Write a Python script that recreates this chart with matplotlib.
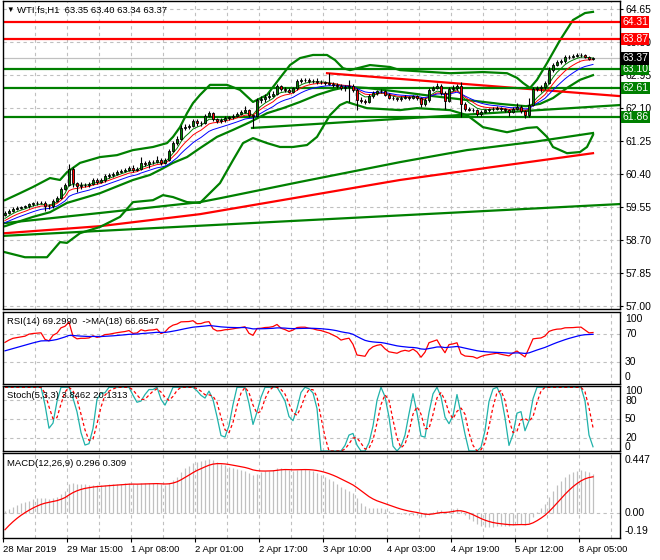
import numpy as np
import pandas as pd
import matplotlib
matplotlib.use("Agg")
import matplotlib.pyplot as plt

plt.rcParams['font.family'] = ['Liberation Sans', 'DejaVu Sans']

# ---- data (WTI.fs H1) ----
first_open = 59.34
closes = [59.39, 59.45, 59.50, 59.52, 59.54, 59.56, 59.62, 59.64, 59.65, 59.66,
          59.58, 59.56, 59.70, 59.77, 60.01, 60.11, 60.52, 60.16, 60.08, 60.11,
          60.11, 60.13, 60.24, 60.20, 60.24, 60.34, 60.36, 60.40, 60.44, 60.47,
          60.50, 60.55, 60.50, 60.52, 60.68, 60.66, 60.70, 60.71, 60.75, 60.68,
          60.75, 60.99, 61.19, 61.30, 61.58, 61.61, 61.63, 61.76, 61.70, 61.72,
          61.89, 61.96, 61.81, 61.76, 61.78, 61.84, 61.86, 61.90, 61.95, 61.99,
          62.04, 61.92, 61.88, 62.30, 62.32, 62.38, 62.40, 62.46, 62.66, 62.58,
          62.55, 62.51, 62.60, 62.79, 62.82, 62.82, 62.80, 62.79, 62.77, 62.76,
          62.74, 62.72, 62.69, 62.66, 62.61, 62.64, 62.66, 62.56, 62.30, 62.28,
          62.26, 62.40, 62.48, 62.52, 62.54, 62.44, 62.36, 62.34, 62.32, 62.36,
          62.38, 62.36, 62.40, 62.34, 62.20, 62.30, 62.56, 62.61, 62.66, 62.48,
          62.28, 62.58, 62.61, 62.66, 62.20, 62.07, 62.05, 62.03, 61.94, 62.00,
          62.04, 62.06, 62.08, 62.10, 62.06, 62.03, 62.00, 62.07, 62.12, 62.02,
          61.92, 62.17, 62.58, 62.61, 62.63, 62.74, 63.07, 63.20, 63.28, 63.30,
          63.41, 63.42, 63.43, 63.46, 63.47, 63.41, 63.35, 63.37]
highs = [59.45, 59.50, 59.55, 59.56, 59.58, 59.60, 59.66, 59.68, 59.69, 59.70,
         59.69, 59.62, 59.74, 59.82, 60.06, 60.16, 60.66, 60.58, 60.20, 60.18,
         60.16, 60.19, 60.29, 60.28, 60.28, 60.40, 60.41, 60.45, 60.49, 60.52,
         60.55, 60.60, 60.62, 60.57, 60.84, 60.73, 60.75, 60.76, 60.86, 60.80,
         60.80, 61.03, 61.24, 61.36, 61.66, 61.67, 61.69, 61.80, 61.80, 61.77,
         61.93, 62.02, 61.99, 61.84, 61.83, 61.88, 61.90, 61.94, 61.99, 62.04,
         62.15, 62.07, 61.95, 62.35, 62.40, 62.45, 62.50, 62.52, 62.72, 62.68,
         62.63, 62.60, 62.64, 62.84, 62.87, 62.86, 62.86, 62.84, 62.86, 62.82,
         62.80, 62.99, 62.76, 62.73, 62.70, 62.69, 62.82, 62.70, 62.60, 62.38,
         62.33, 62.45, 62.53, 62.57, 62.58, 62.56, 62.47, 62.40, 62.38, 62.40,
         62.42, 62.41, 62.44, 62.43, 62.37, 62.35, 62.62, 62.67, 62.75, 62.70,
         62.52, 62.64, 62.68, 62.72, 62.76, 62.24, 62.12, 62.09, 62.07, 62.05,
         62.08, 62.10, 62.12, 62.14, 62.13, 62.09, 62.08, 62.12, 62.22, 62.16,
         62.05, 62.34, 62.64, 62.66, 62.68, 62.80, 63.16, 63.26, 63.33, 63.35,
         63.46, 63.47, 63.48, 63.51, 63.51, 63.49, 63.44, 63.40]
lows = [59.30, 59.36, 59.42, 59.46, 59.49, 59.51, 59.53, 59.58, 59.60, 59.61,
        59.45, 59.50, 59.52, 59.67, 59.74, 59.98, 60.08, 60.05, 59.93, 60.02,
        60.05, 60.07, 60.10, 60.14, 60.16, 60.20, 60.30, 60.32, 60.37, 60.41,
        60.44, 60.47, 60.45, 60.46, 60.49, 60.61, 60.56, 60.65, 60.68, 60.62,
        60.64, 60.72, 60.96, 61.15, 61.27, 61.53, 61.56, 61.60, 61.62, 61.64,
        61.68, 61.86, 61.76, 61.72, 61.72, 61.74, 61.79, 61.82, 61.86, 61.91,
        61.96, 61.86, 61.58, 61.85, 62.22, 62.25, 62.33, 62.38, 62.43, 62.53,
        62.50, 62.47, 62.48, 62.56, 62.74, 62.77, 62.75, 62.74, 62.72, 62.71,
        62.69, 62.68, 62.64, 62.61, 62.56, 62.52, 62.25, 62.50, 62.04, 62.22,
        62.20, 62.23, 62.36, 62.44, 62.47, 62.40, 62.32, 62.30, 62.27, 62.28,
        62.32, 62.31, 62.32, 62.30, 62.12, 62.15, 62.26, 62.52, 62.58, 62.43,
        62.06, 62.24, 62.54, 62.57, 61.86, 62.02, 62.01, 61.99, 61.90, 61.90,
        61.96, 62.00, 62.02, 62.04, 62.02, 61.99, 61.90, 61.96, 62.03, 61.97,
        61.83, 61.85, 62.14, 62.52, 62.50, 62.58, 62.70, 63.02, 63.17, 63.22,
        63.26, 63.36, 63.38, 63.40, 63.41, 63.38, 63.33, 63.34]

# Bollinger bands as drawn (bar index, price)
bb_up_x = [0, 3.75, 7, 11.25, 13.75, 15.5, 18.75, 23.75, 28, 32, 37, 40.5, 42, 43.75, 45.5,
           47, 48.75, 51.25, 55.5, 58.75, 62, 65.5, 68.75, 71.25, 73.75, 77, 80.5, 82.5,
           84.5, 86.25, 91.25, 96.25, 98.75, 111.25, 119.5, 125.5, 128, 129.5, 131.25,
           133, 135.5, 138.75, 142, 145, 147]
bb_up = [59.72, 59.90, 60.06, 60.29, 60.24, 60.44, 60.68, 60.83, 60.88, 61.01, 61.09, 61.19,
         61.35, 61.60, 61.96, 62.22, 62.43, 62.69, 62.69, 62.56, 62.25, 62.43, 62.87, 63.20,
         63.38, 63.46, 63.46, 63.33, 63.12, 63.07, 63.20, 63.15, 63.07, 62.99, 63.02, 62.99,
         62.87, 62.74, 62.61, 62.82, 63.25, 63.84, 64.36, 64.54, 64.57]
bb_mid_x = [0, 7, 11.25, 15.5, 23.75, 32, 36.25, 38.75, 42, 45.5, 48.75, 53, 57, 61.25, 65.5,
            69.5, 73.75, 78, 82, 85.5, 90.5, 98.75, 107, 115.5, 123.75, 130.25, 133.75, 137,
            140.5, 143.75, 147]
bb_mid = [59.05, 59.29, 59.41, 59.65, 59.90, 60.24, 60.37, 60.50, 60.68, 60.83, 61.06, 61.35,
          61.53, 61.73, 61.96, 62.09, 62.25, 62.43, 62.56, 62.64, 62.61, 62.51, 62.40, 62.30,
          62.20, 62.14, 62.20, 62.35, 62.61, 62.82, 62.94]
bb_low_x = [0, 5, 10.5, 12, 13.75, 15.5, 18.75, 23.75, 28.75, 32, 37, 39.5, 42, 45.5, 48.75,
            53.75, 57, 59.5, 62, 65.5, 68.75, 72, 75.5, 78, 79.5, 81.25, 83.75, 85.5, 87, 90.5,
            98.75, 103, 111.25, 115.5, 119.5, 125.5, 130.5, 133, 135.5, 137, 140.5, 143.75,
            145.5, 147]
bb_low = [58.38, 58.25, 58.25, 58.43, 58.64, 58.62, 58.87, 59.03, 59.29, 59.67, 59.72, 59.85,
          59.80, 59.67, 59.65, 60.16, 60.75, 61.19, 61.32, 61.19, 61.09, 61.09, 61.14, 61.35,
          61.61, 61.91, 62.17, 62.25, 62.20, 62.09, 62.04, 62.09, 62.04, 61.91, 61.60, 61.47,
          61.58, 61.60, 61.35, 61.09, 60.93, 60.96, 61.09, 61.40]

# slow moving averages
ma_green_x = [0, 23.75, 48.75, 53.75, 73.75, 98.75, 115.5, 132, 147]
ma_green = [59.13, 59.39, 59.67, 59.77, 60.19, 60.70, 61.01, 61.22, 61.45]
ma_red_x = [0, 23.75, 48.75, 73.75, 98.75, 123.75, 147]
ma_red = [58.87, 59.05, 59.36, 59.80, 60.24, 60.60, 60.93]

# trend lines (bar, price) pairs
trend_long_x, trend_long = [-0.5, 153.75], [58.80, 59.62]
trend_sup_x, trend_sup = [61.75, 153.75], [61.58, 62.17]
trend_res_x, trend_res = [80.5, 153.75], [62.99, 62.40]

levels = [64.31, 63.87, 63.10, 62.61, 61.86]
level_colors = ['#ff0000', '#ff0000', '#008000', '#008000', '#008000']
last_price = 63.37

price_ticks = [57.00, 57.85, 58.70, 59.55, 60.40, 61.25, 62.10, 62.95, 63.80, 64.65]
time_labels = ['28 Mar 2019', '29 Mar 15:00', '1 Apr 08:00', '2 Apr 01:00', '2 Apr 17:00',
               '3 Apr 10:00', '4 Apr 03:00', '4 Apr 19:00', '5 Apr 12:00', '8 Apr 05:00']

# ---- indicators ----
c = np.array(closes)
o = np.r_[first_open, c[:-1]]
h = np.maximum(np.array(highs), np.maximum(o, c))
l = np.minimum(np.array(lows), np.minimum(o, c))
n = len(c)
x = np.arange(n)


def ema(vals, period, seed):
    a = 2.0 / (period + 1)
    out, prev = [], seed
    for v in vals:
        prev = prev + a * (v - prev)
        out.append(prev)
    return np.array(out)


ma_fast = ema(c, 5, 59.18)
ma_mid = ema(c, 8, 59.14)
ma_slow = ema(c, 13, 59.10)

# RSI(14), Wilder smoothing
diff = np.diff(np.r_[first_open, c])
g_avg, l_avg = 0.030, 0.024
rsi = []
for d in diff:
    g_avg = (g_avg * 13 + max(d, 0)) / 14
    l_avg = (l_avg * 13 + max(-d, 0)) / 14
    rsi.append(100 - 100 / (1 + g_avg / l_avg))
rsi = np.array(rsi)
rsi_ma = ema(rsi, 18, 45.0)

# Stochastic(5,3,3) on close/close
cs = pd.Series(c)
ll = cs.rolling(5, min_periods=1).min()
hh = cs.rolling(5, min_periods=1).max()
num = (cs - ll).rolling(3, min_periods=1).sum()
den = (hh - ll).rolling(3, min_periods=1).sum()
st_k = (100 * num / den.replace(0, np.nan)).fillna(100).values
st_d = pd.Series(st_k).rolling(3, min_periods=1).mean().values

# MACD(12,26,9)
macd = ema(c, 12, 59.2) - ema(c, 26, 59.2)
signal = ema(macd, 9, -0.17)

# ---- layout ----
W, H = 660, 560
fig = plt.figure(figsize=(W / 100, H / 100), dpi=100)


def fy(y):
    return 1 - y / H


def panel(top, bottom):
    a = fig.add_axes([3 / W, 1 - bottom / H, 617 / W, (bottom - top) / H])
    a.set_xlim(-0.5, 153.75)
    for s in a.spines.values():
        s.set_color('black')
        s.set_linewidth(1.0)
    a.tick_params(left=False, labelleft=False, bottom=False, labelbottom=False,
                  right=False, labelright=False)
    for m in range(1, 20):
        a.axvline(8 * m - 0.5, color='#c0c0c0', lw=0.8, ls=(0, (3, 3)), zorder=0)
    return a


grid_kw = dict(color='#c0c0c0', lw=0.8, ls=(0, (3, 3)), zorder=0)
lab_kw = dict(fontsize=7.5, va='center', ha='left', color='black')
head_kw = dict(fontsize=6.8, va='center', ha='left', color='black')

# main price window
ax = panel(1, 309)
ax.set_ylim(56.917, 64.85)
for t in price_ticks:
    ax.axhline(t, **grid_kw)
ax.yaxis.tick_right()
ax.set_yticks(price_ticks)
ax.set_yticklabels(['%.2f' % t for t in price_ticks])
ax.tick_params(axis='y', right=True, labelright=True, length=2.5, pad=1.5, labelsize=7.5)

ax.plot(trend_long_x, trend_long, color='#008000', lw=1.6, zorder=2)
ax.plot(ma_red_x, ma_red, color='#ff0000', lw=1.6, zorder=2)
ax.plot(ma_green_x, ma_green, color='#008000', lw=1.6, zorder=2)
ax.plot(bb_up_x, bb_up, color='#008000', lw=1.6, zorder=2)
ax.plot(bb_mid_x, bb_mid, color='#008000', lw=1.6, zorder=2)
ax.plot(bb_low_x, bb_low, color='#008000', lw=1.6, zorder=2)
ax.plot(trend_sup_x, trend_sup, color='#008000', lw=1.6, zorder=2)
ax.plot(trend_res_x, trend_res, color='#ff0000', lw=1.6, zorder=2)
ax.axhline(last_price, color='#c0c0c0', lw=0.9, zorder=1)
for lvl, col in zip(levels, level_colors):
    ax.axhline(lvl, color=col, lw=1.6, zorder=2)

ax.plot(x, ma_fast, color='#008000', lw=0.7, zorder=3)
ax.plot(x, ma_mid, color='#ff0000', lw=0.7, zorder=3)
ax.plot(x, ma_slow, color='#0000ff', lw=0.7, zorder=3)

body = np.where(np.abs(c - o) < 0.004, 0.004, c - o)
cols = np.where(c >= o, '#008000', '#ff0000')
ax.vlines(x, l, h, color='black', lw=0.8, zorder=4)
ax.bar(x, body, bottom=o, width=0.65, color=cols, edgecolor='black', lw=0.6, zorder=5)

# price-level tags on the right scale
for lvl, col in zip(levels, level_colors):
    ax.text(1.0035, lvl, '%.2f' % lvl, transform=ax.get_yaxis_transform(), color='white',
            fontsize=7.5, va='center', ha='left', clip_on=False, zorder=10,
            bbox=dict(boxstyle='square,pad=0.12', fc=col, ec='none'))
ax.text(1.0035, last_price, '%.2f' % last_price, transform=ax.get_yaxis_transform(),
        color='white', fontsize=7.5, va='center', ha='left', clip_on=False, zorder=10,
        bbox=dict(boxstyle='square,pad=0.12', fc='black', ec='none'))

fig.text(6 / W, fy(10), '\u25bc', fontsize=5.5, va='center', ha='left')
fig.text(17 / W, fy(10), 'WTI.fs,H1  63.35 63.40 63.34 63.37', **head_kw)

# RSI
ax_rsi = panel(312, 384)
ax_rsi.set_ylim(-1.0, 101.9)
for t in (70, 30):
    ax_rsi.axhline(t, **grid_kw)
ax_rsi.plot(x, rsi, color='#ff0000', lw=0.9)
ax_rsi.plot(x, rsi_ma, color='#0000ff', lw=0.9)
fig.text(7 / W, fy(321), 'RSI(14) 69.2990  ->MA(18) 66.6547', **head_kw)
for txt, yy in (('100', 319), ('70', 334), ('30', 362), ('0', 377)):
    fig.text(625 / W, fy(yy), txt, **lab_kw)

# Stochastic
ax_st = panel(386, 451)
ax_st.set_ylim(0, 102)
for t in (80, 50, 20):
    ax_st.axhline(t, **grid_kw)
ax_st.plot(x, st_k, color='#20b2aa', lw=0.9)
ax_st.plot(x, st_d, color='#ff0000', lw=0.9, ls=(0, (2.5, 2)))
fig.text(7 / W, fy(395), 'Stoch(5,3,3) 3.8462 20.1313', **head_kw)
for txt, yy in (('100', 391), ('80', 401), ('50', 419), ('20', 438), ('0', 447)):
    fig.text(625 / W, fy(yy), txt, **lab_kw)

# MACD
ax_m = panel(453, 538)
ax_m.set_ylim(-0.198, 0.468)
ax_m.axhline(0, **grid_kw)
ax_m.vlines(x, 0, macd, color='#c0c0c0', lw=0.9)
ax_m.plot(x, signal, color='#ff0000', lw=0.9)
fig.text(7 / W, fy(463), 'MACD(12,26,9) 0.296 0.309', **head_kw)
for txt, yy in (('0.447', 460), ('0.00', 513), ('-0.19', 531)):
    fig.text(625 / W, fy(yy), txt, **lab_kw)

ax_m.set_xticks([16 * m - 0.5 for m in range(len(time_labels))])
ax_m.set_xticklabels(time_labels)
ax_m.tick_params(axis='x', bottom=True, labelbottom=True, length=3, pad=2, labelsize=6.8)
for lab in ax_m.get_xticklabels():
    lab.set_ha('left')

fig.savefig('out.png', dpi=100)
